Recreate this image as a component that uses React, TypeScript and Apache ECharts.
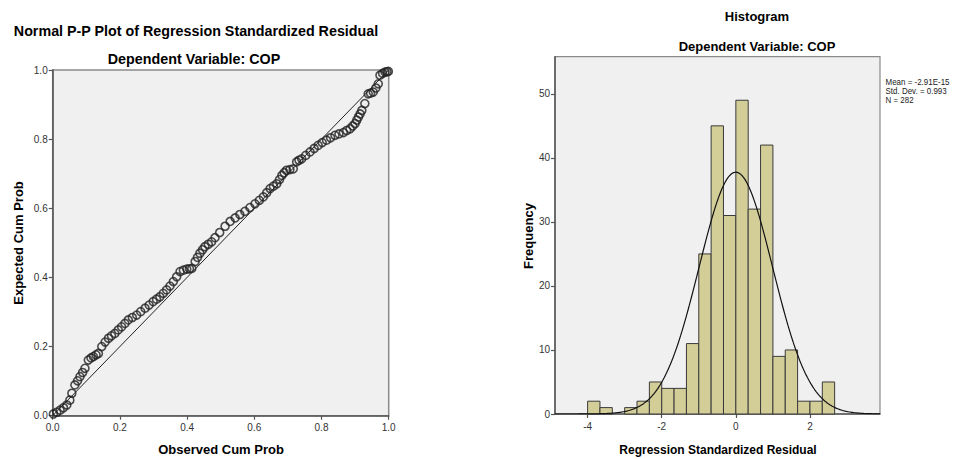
import React, { useEffect, useRef } from "react";
import * as echarts from "echarts";

// ---------- P-P plot data ----------
const ppObserved = [
  0.002, 0.012, 0.022, 0.032, 0.042, 0.051, 0.057, 0.066, 0.074, 0.081, 0.089, 0.096, 0.106, 0.114, 0.121,
  0.129, 0.136, 0.146, 0.156, 0.166, 0.175, 0.185, 0.195, 0.205, 0.215, 0.225, 0.237, 0.25, 0.262, 0.275,
  0.287, 0.299, 0.309, 0.319, 0.329, 0.339, 0.349, 0.359, 0.369, 0.379, 0.389, 0.399, 0.407, 0.414, 0.424,
  0.431, 0.438, 0.446, 0.453, 0.463, 0.473, 0.483, 0.497, 0.513, 0.528, 0.543, 0.557, 0.572, 0.587, 0.602,
  0.615, 0.627, 0.637, 0.647, 0.657, 0.667, 0.675, 0.682, 0.689, 0.696, 0.706, 0.716, 0.726, 0.733, 0.741,
  0.753, 0.766, 0.778, 0.79, 0.802, 0.815, 0.827, 0.84, 0.852, 0.865, 0.875, 0.885, 0.893, 0.9, 0.905,
  0.91, 0.915, 0.92, 0.929, 0.939, 0.946, 0.954, 0.962, 0.969, 0.974, 0.982, 0.989, 0.995, 0.999,
];
const ppExpected = [
  0.005, 0.01, 0.016, 0.023, 0.031, 0.045, 0.065, 0.089, 0.101, 0.113, 0.125, 0.137, 0.161, 0.167, 0.171,
  0.176, 0.18, 0.2, 0.213, 0.224, 0.231, 0.238, 0.248, 0.257, 0.267, 0.277, 0.284, 0.291, 0.301, 0.311,
  0.32, 0.33, 0.337, 0.344, 0.354, 0.364, 0.375, 0.388, 0.402, 0.417, 0.421, 0.424, 0.425, 0.426, 0.446,
  0.458, 0.47, 0.48, 0.489, 0.496, 0.503, 0.515, 0.53, 0.548, 0.562, 0.572, 0.582, 0.591, 0.602, 0.613,
  0.623, 0.633, 0.645, 0.657, 0.664, 0.671, 0.683, 0.695, 0.703, 0.71, 0.712, 0.714, 0.734, 0.739, 0.743,
  0.753, 0.763, 0.773, 0.782, 0.79, 0.797, 0.804, 0.811, 0.815, 0.819, 0.825, 0.83, 0.838, 0.845, 0.855,
  0.864, 0.873, 0.883, 0.903, 0.931, 0.933, 0.936, 0.948, 0.96, 0.985, 0.99, 0.994, 0.995, 0.996,
];

// ---------- Histogram data ----------
const histBinStart = [
  -4.0, -3.667, -3.333, -3.0, -2.667, -2.333, -2.0, -1.667, -1.333, -1.0,
  -0.667, -0.333, 0.0, 0.333, 0.667, 1.0, 1.333, 1.667, 2.0, 2.333,
];
const histFreq = [2, 1, 0, 1, 2, 5, 4, 4, 11, 25, 45, 31, 49, 32, 42, 9, 10, 2, 2, 5];
const BIN_WIDTH = 1 / 3;
const histXTicks = [-4, -2, 0, 2];
const histYTicks = [0, 10, 20, 30, 40, 50];
const RES_MEAN = -2.91e-15;
const RES_SD = 0.993;
const RES_N = 282;
const statLines = ["Mean = -2.91E-15", "Std. Dev. = 0.993", "N = 282"];

const X_MIN = -4.88;
const X_MAX = 3.89;
const Y_MAX = 55.8;

const FONT = '"Liberation Sans", Arial, sans-serif';

export default function App() {
  const ref = useRef<HTMLDivElement>(null);

  useEffect(() => {
    if (!ref.current) return;
    const chart = echarts.init(ref.current, null, { renderer: "svg" });

    const ppData = ppObserved.map((x, i) => [x, ppExpected[i]]);
    const histData = histBinStart.map((s, i) => [s, s + BIN_WIDTH, histFreq[i]]);

    // fitted normal curve from stated mean / sd / N
    const curve: number[][] = [];
    const steps = 300;
    for (let i = 0; i <= steps; i++) {
      const x = X_MIN + ((X_MAX - X_MIN) * i) / steps;
      const z = (x - RES_MEAN) / RES_SD;
      const pdf = Math.exp(-0.5 * z * z) / (RES_SD * Math.sqrt(2 * Math.PI));
      curve.push([x, RES_N * BIN_WIDTH * pdf]);
    }

    const axisLineStyle = { color: "#555", width: 1.5 };
    const labelStyle = { color: "#333", fontFamily: FONT, fontSize: 10 };

    const titleStyle = (text: string, size = 13) => ({
      text, fontFamily: FONT, fontWeight: "bold", fontSize: size, fill: "#000",
      align: "center", verticalAlign: "middle",
    });

    chart.setOption({
      animation: false,
      backgroundColor: "#fff",
      grid: [
        {
          left: 52.7, top: 70, width: 336, height: 345.7,
          show: true, backgroundColor: "#F0F0F0", borderColor: "#8a8a8a", borderWidth: 1.5,
        },
        {
          left: 555, top: 56.7, width: 325, height: 357.3,
          show: true, backgroundColor: "#F0F0F0", borderColor: "#8a8a8a", borderWidth: 1.2,
        },
      ],
      xAxis: [
        {
          gridIndex: 0, type: "value", min: 0, max: 1, interval: 0.2,
          axisLine: { show: true, onZero: false, lineStyle: axisLineStyle },
          axisTick: { show: true, length: 4, lineStyle: { color: "#555", width: 1.2 } },
          axisLabel: { ...labelStyle, margin: 7, formatter: (v: number) => v.toFixed(1) },
          splitLine: { show: false },
        },
        {
          gridIndex: 1, type: "value", min: X_MIN, max: X_MAX,
          axisLine: { show: true, onZero: false, lineStyle: axisLineStyle },
          axisTick: { show: true, length: 4, customValues: histXTicks, lineStyle: { color: "#555", width: 1.2 } },
          axisLabel: { ...labelStyle, margin: 7, customValues: histXTicks, formatter: (v: number) => String(v) },
          splitLine: { show: false },
        },
      ],
      yAxis: [
        {
          gridIndex: 0, type: "value", min: 0, max: 1, interval: 0.2,
          axisLine: { show: true, onZero: false, lineStyle: axisLineStyle },
          axisTick: { show: true, length: 4, lineStyle: { color: "#555", width: 1.2 } },
          axisLabel: { ...labelStyle, margin: 5, formatter: (v: number) => v.toFixed(1) },
          splitLine: { show: false },
        },
        {
          gridIndex: 1, type: "value", min: 0, max: Y_MAX,
          axisLine: { show: true, onZero: false, lineStyle: axisLineStyle },
          axisTick: { show: true, length: 4, customValues: histYTicks, lineStyle: { color: "#555", width: 1.2 } },
          axisLabel: { ...labelStyle, margin: 5, customValues: histYTicks, formatter: (v: number) => String(v) },
          splitLine: { show: false },
        },
      ],
      series: [
        {
          type: "line", xAxisIndex: 0, yAxisIndex: 0,
          data: [[0, 0], [1, 1]],
          symbol: "none", lineStyle: { color: "#222", width: 1 }, z: 2,
        },
        {
          type: "scatter", xAxisIndex: 0, yAxisIndex: 0,
          data: ppData, symbol: "circle", symbolSize: 8,
          itemStyle: { color: "rgba(0,0,0,0)", borderColor: "#222", borderWidth: 1.6 },
          z: 3,
        },
        {
          type: "custom", xAxisIndex: 1, yAxisIndex: 1,
          data: histData,
          encode: { x: [0, 1], y: 2 },
          renderItem: (_p: any, api: any) => {
            const x0 = api.value(0), x1 = api.value(1), f = api.value(2);
            if (!f) return null;
            const a = api.coord([x0, f]);
            const b = api.coord([x1, 0]);
            return {
              type: "rect",
              shape: { x: a[0], y: a[1], width: b[0] - a[0], height: b[1] - a[1] },
              style: { fill: "#D3CE98", stroke: "#3a3a3a", lineWidth: 1 },
            };
          },
          z: 2,
        },
        {
          type: "line", xAxisIndex: 1, yAxisIndex: 1,
          data: curve, symbol: "none", smooth: false,
          lineStyle: { color: "#111", width: 1.2 }, z: 3,
        },
      ],
      graphic: [
        { type: "text", x: 196, y: 31, style: titleStyle("Normal P-P Plot of Regression Standardized Residual", 14.3) },
        { type: "text", x: 194, y: 59, style: titleStyle("Dependent Variable: COP", 14.3) },
        { type: "text", x: 221, y: 449, style: titleStyle("Observed Cum Prob") },
        { type: "text", x: 18, y: 243, rotation: Math.PI / 2, style: titleStyle("Expected Cum Prob") },
        { type: "text", x: 757, y: 16, style: titleStyle("Histogram") },
        { type: "text", x: 757, y: 46, style: titleStyle("Dependent Variable: COP") },
        { type: "text", x: 718, y: 450, style: titleStyle("Regression Standardized Residual", 12) },
        { type: "text", x: 528, y: 236, rotation: Math.PI / 2, style: titleStyle("Frequency") },
        {
          type: "text", x: 885.5, y: 77, scaleX: 0.84,
          style: { text: statLines.join("\n"), fontFamily: FONT, fontSize: 9.5, lineHeight: 9.2, fill: "#222", align: "left", verticalAlign: "top" },
        },
      ],
    });

    return () => chart.dispose();
  }, []);

  return (
    <div
      ref={ref}
      style={{ position: "fixed", left: 0, top: 0, width: 954, height: 459 }}
    />
  );
}
